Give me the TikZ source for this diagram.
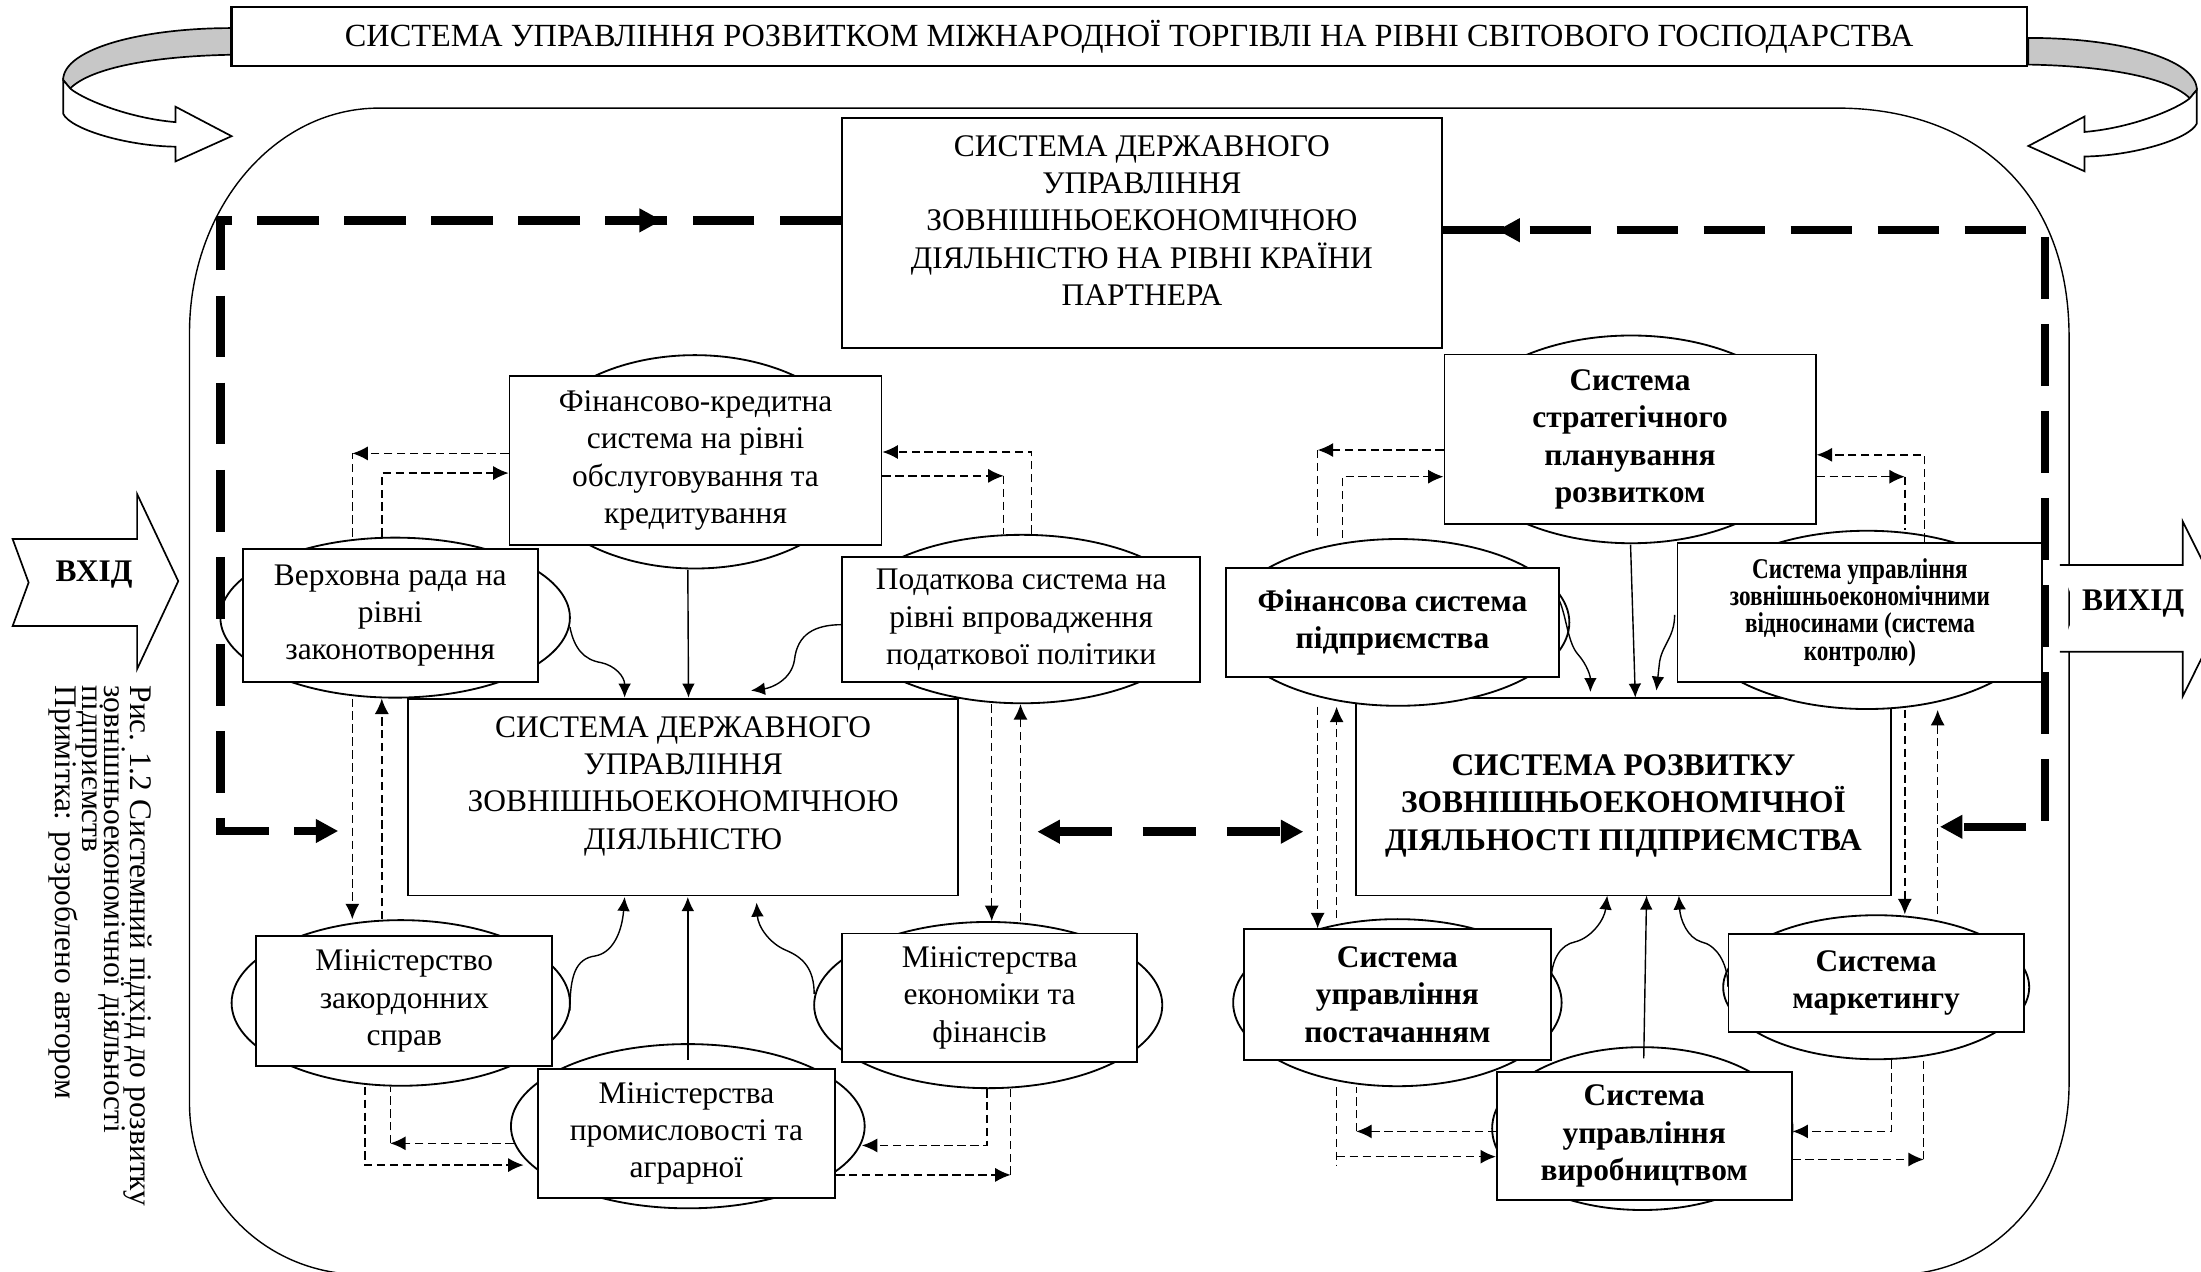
\documentclass[tikz,border=0pt]{standalone}
\usepackage{fontspec}
\setmainfont{Liberation Serif}
\newfontfamily\condb{Liberation Serif}[FakeStretch=0.81, BoldFeatures={FakeStretch=0.81}]
\usetikzlibrary{arrows.meta,decorations.markings,shapes.geometric}
\tikzset{
 box/.style={draw, line width=0.65pt, fill=white, inner sep=0pt, align=center},
 bbox/.style={box, font=\fontsize{11.2}{13.3}\selectfont\bfseries},
 ell/.style={draw, ellipse, line width=0.65pt, fill=white, inner sep=0pt},
 txt/.style={align=center, inner sep=0pt},
 dl/.style={line width=0.5pt, dash pattern=on 3pt off 1.6pt},
 dla/.style={dl, -{Latex[length=5.5pt,width=5pt]}},
 sl/.style={line width=0.5pt, -{Latex[length=5pt,width=4.5pt]}},
 thk/.style={line width=3pt, dash pattern=on 22pt off 9pt},
 thka/.style={thk, -{Triangle[length=8pt,width=8pt]}},
 midarr/.style={postaction={decorate, decoration={markings,
   mark=at position #1 with {\arrowreversed{Triangle[length=8pt,width=8pt]}}}}},
}
\newcommand{\ribbonshape}{%
 \filldraw[fill=black!22, line width=0.6pt] (165,20) .. controls (100,20) and (45,35) .. (45,57) -- (50,63) .. controls (65,48) and (110,40) .. (165,39) -- cycle;
 \filldraw[fill=white, line width=0.6pt] (45,57) -- (45,81) .. controls (50,92) and (90,104) .. (125,104.5) -- (125,115) -- (165,97) -- (125,76) -- (125,87) .. controls (90,84) and (58,70) .. (50,63) -- cycle;
}
\begin{document}
\begin{tikzpicture}[x=0.5pt,y=-0.5pt, font=\fontsize{11.2}{13.3}\selectfont]
\useasboundingbox (0,0) rectangle (1568,906);
\begin{scope}
\clip (0,0) rectangle (1568,906);
% big rounded frame
\draw[line width=0.5pt] (270,77) -- (1309,77) .. controls (1400,77) and (1474,130) .. (1474,240) -- (1474,772) .. controls (1474,850) and (1420,906) .. (1354,908) -- (255,908) .. controls (185,906) and (135,850) .. (135,786) -- (135,237) .. controls (135,149) and (195,77) .. (270,77) -- cycle;
% ribbons
\ribbonshape
\begin{scope}[cm={-1,0,0,1,(1610,7)}]
\ribbonshape
\end{scope}
% output arrow
\fill[white] (1467.5,402.5) -- (1555,402.5) -- (1555,371.5) -- (1586,433.5) -- (1555,496) -- (1555,464.3) -- (1467.5,464.3) -- (1479,433.5) -- cycle;
\draw[line width=0.6pt] (1467.5,402.5) -- (1555,402.5) -- (1555,371.5) -- (1586,433.5) -- (1555,496) -- (1555,464.3) -- (1467.5,464.3);
\end{scope}
\node[font=\fontsize{11.2}{13.3}\selectfont\bfseries, inner sep=0pt] (vyhid) at (1519.7,429.7) {ВИХІД};
% input arrow
\draw[line width=0.6pt, fill=white] (9,384) -- (97.7,384) -- (97.7,352) -- (127,414) -- (97.7,476.6) -- (97.7,446) -- (9,446) -- (20.4,415) -- cycle;
\node[font=\fontsize{11.2}{13.3}\selectfont\bfseries, inner sep=0pt] (vhid) at (67,409) {ВХІД};

% title
\node[box, line width=0.8pt, font=\fontsize{11.5}{13.3}\selectfont, minimum width=639.5pt, minimum height=21pt] (title) at (804.5,26) {СИСТЕМА УПРАВЛІННЯ РОЗВИТКОМ МІЖНАРОДНОЇ ТОРГІВЛІ НА РІВНІ СВІТОВОГО ГОСПОДАРСТВА};
% partner
\node[box, minimum width=213.5pt, minimum height=82pt] (partner) at (813.5,166) {};
\node[txt] (partnerT) at (813.5,157) {СИСТЕМА ДЕРЖАВНОГО\\УПРАВЛІННЯ\\ЗОВНІШНЬОЕКОНОМІЧНОЮ\\ДІЯЛЬНІСТЮ НА РІВНІ КРАЇНИ\\ПАРТНЕРА};

% central boxes
\node[box, minimum width=196pt, minimum height=70pt] (gov) at (486.7,568) {};
\node[txt] (govT) at (486.7,560) {СИСТЕМА ДЕРЖАВНОГО\\УПРАВЛІННЯ\\ЗОВНІШНЬОЕКОНОМІЧНОЮ\\ДІЯЛЬНІСТЮ};
\node[box, minimum width=190.5pt, minimum height=70.25pt] (cr) at (1156.5,567.75) {};
\node[txt, font=\fontsize{11.2}{13.3}\selectfont\bfseries] (crT) at (1156.5,574) {СИСТЕМА РОЗВИТКУ\\ЗОВНІШНЬОЕКОНОМІЧНОЇ\\ДІЯЛЬНОСТІ ПІДПРИЄМСТВА};

% left cluster
\node[ell, minimum width=120pt, minimum height=76pt] (finKE) at (495,329) {};
\node[box, minimum width=132.5pt, minimum height=60pt] (finK) at (495.5,328) {Фінансово-кредитна\\система на рівні\\обслуговування та\\кредитування};
\node[ell, minimum width=124.5pt, minimum height=57pt] (vrE) at (281.5,440) {};
\node[box, minimum width=105pt, minimum height=47.5pt] (vr) at (278,438.5) {Верховна рада на\\рівні\\законотворення};
\node[ell, minimum width=126pt, minimum height=60pt] (podE) at (728,441) {};
\node[box, minimum width=127.5pt, minimum height=44.5pt] (pod) at (727.5,441.5) {Податкова система на\\рівні впровадження\\податкової політики};
\node[ell, minimum width=120.5pt, minimum height=59pt] (mzE) at (285.5,714.5) {};
\node[box, minimum width=105.5pt, minimum height=46.25pt] (mz) at (288,713.2) {Міністерство\\закордонних\\справ};
\node[ell, minimum width=126pt, minimum height=58.5pt] (mpE) at (490,802.3) {};
\node[box, minimum width=106pt, minimum height=46pt] (mp) at (489,807.5) {Міністерства\\промисловості та\\аграрної};
\node[ell, minimum width=124pt, minimum height=59.2pt] (meE) at (704,716) {};
\node[box, minimum width=105pt, minimum height=45.75pt] (me) at (705,710.8) {Міністерства\\економіки та\\фінансів};

% right cluster
\node[ell, minimum width=128pt, minimum height=74pt] (stE) at (1162,313) {};
\node[bbox, minimum width=132.25pt, minimum height=60.5pt] (st) at (1161.25,313) {Система\\стратегічного\\планування\\розвитком};
\node[ell, minimum width=122pt, minimum height=59.4pt] (fsE) at (996,443.4) {};
\node[bbox, minimum width=118.6pt, minimum height=38.75pt] (fs) at (992,443.5) {Фінансова система\\підприємства};
\node[ell, minimum width=125pt, minimum height=63.5pt] (zeE) at (1330,441.6) {};
\node[box, font=\condb\bfseries\fontsize{10.2}{9.7}\selectfont, minimum width=130pt, minimum height=49.7pt] (ze) at (1325,436.3) {Система управління\\зовнішньоекономічними\\відносинами (система\\контролю)};
\node[ell, minimum width=117pt, minimum height=59.5pt] (psE) at (995.5,714.3) {};
\node[bbox, minimum width=109.5pt, minimum height=46.5pt] (ps) at (995.5,708.5) {Система\\управління\\постачанням};
\node[ell, minimum width=109pt, minimum height=51.3pt] (mkE) at (1336.6,703.3) {};
\node[bbox, minimum width=105.1pt, minimum height=34.8pt] (mk) at (1336.5,700.2) {Система\\маркетингу};
\node[ell, minimum width=107pt, minimum height=58pt] (vyE) at (1170,804) {};
\node[bbox, minimum width=105pt, minimum height=45.75pt] (vy) at (1171.35,809.25) {Система\\управління\\виробництвом};

% ---------- thin dashed connectors, left cluster
\coordinate (L1c) at (251,323);
\draw[dl] (vrE.north -| L1c) -- (L1c);
\draw[dla] (finK.west |- L1c) -- (L1c);
\coordinate (L2c) at (272,337);
\draw[dla] (vrE.north -| L2c) -- (L2c) -- (finK.west |- L2c);
\coordinate (L3c) at (735,322);
\draw[dla] (podE.north -| L3c) -- (L3c) -- (finK.east |- L3c);
\coordinate (L4c) at (715,339);
\draw[dla] (finK.east |- L4c) -- (L4c);
\draw[dl] (L4c) -- (podE.north -| L4c);
\draw[dla] (vrE.south -| L1c) -- (mzE.north -| L1c);
\draw[dla] (mzE.north -| L2c) -- (vrE.south -| L2c);
\coordinate (L7x) at (706.5,0);
\coordinate (L8x) at (727,0);
\draw[dla] (podE.south -| L7x) -- (meE.north -| L7x);
\draw[dla] (meE.north -| L8x) -- (podE.south -| L8x);
\coordinate (L9c) at (260,830);
\coordinate (L9e) at (373,830);
\draw[dla] (mzE.south -| L9c) -- (L9c) -- (L9e);
\coordinate (L10c) at (278,814.5);
\coordinate (L10s) at (366,814.5);
\draw[dla] (L10s) -- (L10c);
\draw[dl] (L10c) -- (mzE.south -| L10c);
\coordinate (L11c) at (703,816);
\coordinate (L11e) at (614,816);
\draw[dla] (meE.south -| L11c) -- (L11c) -- (L11e);
\coordinate (L12c) at (720,837);
\draw[dla] (mp.east |- L12c) -- (L12c);
\draw[dl] (L12c) -- (meE.south -| L12c);

% ---------- thin dashed connectors, right cluster
\coordinate (R1c) at (938.7,320.6);
\draw[dla] (st.west |- R1c) -- (R1c);
\draw[dl] (R1c) -- (fsE.north -| R1c);
\coordinate (R2c) at (956.3,339.6);
\draw[dla] (fsE.north -| R2c) -- (R2c) -- (st.west |- R2c);
\coordinate (R3c) at (1371,324);
\draw[dla] (ze.north -| R3c) -- (R3c) -- (st.east |- R3c);
\coordinate (R4c) at (1357,339.6);
\draw[dla] (st.east |- R4c) -- (R4c);
\draw[dl] (R4c) -- (zeE.north -| R4c);
\draw[dla] (fsE.south -| R1c) -- (ps.north -| R1c);
\coordinate (R6x) at (952.2,0);
\draw[dla] (psE.north -| R6x) -- (fsE.south -| R6x);
\draw[dla] (zeE.south -| R4c) -- (mkE.north -| R4c);
\coordinate (R8x) at (1380.4,0);
\draw[dla] (mkE.north -| R8x) -- (zeE.south -| R8x);
\coordinate (R9c) at (952.3,824);
\coordinate (R9b) at (952.3,831);
\draw[dl] (psE.south -| R9c) -- (R9b);
\draw[dla] (R9c) -- (vy.west |- R9c);
\coordinate (R10c) at (966.2,806);
\draw[dla] (vy.west |- R10c) -- (R10c);
\draw[dl] (R10c) -- (psE.south -| R10c);
\coordinate (R11c) at (1347.4,806);
\draw[dla] (mkE.south -| R11c) -- (R11c) -- (vy.east |- R11c);
\coordinate (R12c) at (1370.5,826);
\draw[dla] (vy.east |- R12c) -- (R12c);
\draw[dl] (R12c) -- (mkE.south -| R12c);

% ---------- solid connectors, left cluster
\coordinate (S1a) at (406,446.6);
\coordinate (S1b) at (445,497);
\draw[sl] (S1a) .. controls (409,462) and (416,470) .. (428,472) .. controls (438,474) and (445,482) .. (S1b);
\coordinate (S2a) at (490,406);
\coordinate (S2b) at (490.5,497);
\draw[sl] (S2a) -- (S2b);
\coordinate (S3a) at (600,445);
\coordinate (S3b) at (535,492);
\draw[sl] (S3a) .. controls (580,445) and (568,452) .. (566,470) .. controls (564,484) and (550,490) .. (S3b);
\coordinate (S4a) at (406,720);
\coordinate (S4b) at (445,639);
\draw[sl] (S4a) .. controls (406,695) and (410,683) .. (424,681) .. controls (436,679) and (443,665) .. (S4b);
\coordinate (S5a) at (490,755);
\coordinate (S5b) at (490,639);
\draw[sl] (S5a) -- (S5b);
\coordinate (S6a) at (580,708);
\coordinate (S6b) at (539,643);
\draw[sl] (S6a) .. controls (580,690) and (572,682) .. (560,677) .. controls (548,672) and (540,660) .. (S6b);

% ---------- solid connectors, right cluster
\coordinate (S7a) at (1111,428);
\coordinate (S7b) at (1133,493);
\draw[sl] (S7a) .. controls (1116,440) and (1117,458) .. (1124,466) .. controls (1131,474) and (1133,482) .. (S7b);
\coordinate (S8a) at (1161.6,388);
\coordinate (S8b) at (1165,497);
\draw[sl] (S8a) -- (S8b);
\coordinate (S9a) at (1193,438);
\coordinate (S9b) at (1180,492);
\draw[sl] (S9a) .. controls (1193,455) and (1183,460) .. (1182,474) -- (S9b);
\coordinate (S10a) at (1105,700);
\coordinate (S10b) at (1145,638);
\draw[sl] (S10a) .. controls (1105,683) and (1112,673) .. (1122,671) .. controls (1134,668) and (1143,655) .. (S10b);
\coordinate (S11a) at (1171,754);
\coordinate (S11b) at (1173,638);
\draw[sl] (S11a) -- (S11b);
\coordinate (S12a) at (1231,703);
\coordinate (S12b) at (1196,638);
\draw[sl] (S12a) .. controls (1231,685) and (1222,673) .. (1212,671) .. controls (1202,668) and (1197,655) .. (S12b);

% ---------- thick dashed loops
\coordinate (TLa) at (600,157);
\coordinate (TL) at (157,157);
\coordinate (BL) at (157,592);
\coordinate (BLe) at (241,592);
\draw[thka, midarr=0.133] (partner.west |- TLa) -- (TL) -- (BL) -- (BLe);
\coordinate (TRa) at (1027,164);
\coordinate (TR) at (1457,164);
\coordinate (BR) at (1457,589);
\coordinate (BRe) at (1382,589);
\draw[thka, midarr=0.042] (partner.east |- TRa) -- (TR) -- (BR) -- (BRe);
\coordinate (M1) at (739,592.5);
\coordinate (M2) at (928.5,592.5);
\draw[line width=3pt, dash pattern=on 19pt off 11pt, {Triangle[length=8pt,width=8pt]}-{Triangle[length=8pt,width=8pt]}] (M1) -- (M2);

% ---------- caption
\node[rotate=-90, anchor=west, inner sep=0pt] (cap1) at (98,488) {Рис. 1.2 Системний підхід до розвитку};
\node[rotate=-90, anchor=west, inner sep=0pt] (cap2) at (80,488) {зовнішньоекономічної діяльності};
\node[rotate=-90, anchor=west, inner sep=0pt] (cap3) at (64,488) {підприємств};
\node[rotate=-90, anchor=west, inner sep=0pt] (cap4) at (45,488) {Примітка: розроблено автором};
\end{tikzpicture}
\end{document}
